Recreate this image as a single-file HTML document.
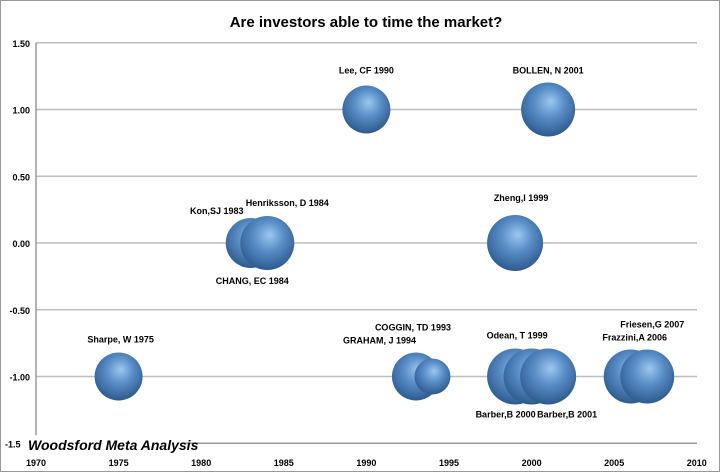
<!DOCTYPE html>
<html><head><meta charset="utf-8"><style>
body{margin:0;background:#fff;}
svg{display:block;font-family:"Liberation Sans",sans-serif;}
</style></head><body>
<svg id="chart" width="720" height="472" viewBox="0 0 720 472">
<defs>
<radialGradient id="bg" cx="0.5" cy="0.4" r="0.6" fx="0.55" fy="0.35">
<stop offset="0" stop-color="#9cc8f0"/>
<stop offset="0.45" stop-color="#5b8fc8"/>
<stop offset="1" stop-color="#2d5a8e"/>
</radialGradient>
</defs>
<rect x="0.5" y="0.5" width="719" height="471" fill="#fff" stroke="#999"/>
<text x="366" y="27" text-anchor="middle" font-size="15" font-weight="bold" fill="#000">Are investors able to time the market?</text>
<g id="grid"></g>
<g id="bubbles"></g>
<g id="labels"></g>
<text x="28" y="450" font-size="14" font-weight="bold" font-style="italic" fill="#000">Woodsford Meta Analysis</text>
</svg>
<script>
const years=[1975,1983,1984,1990,2001,1999,1993,1994,1999,2000,2001,2006,2007];
const values=[-1,0,0,1,1,0,-1,-1,-1,-1,-1,-1,-1];
const sizes=[24,25,27,24,27,28,24,18,28,28,28,27,27];
const names=["Sharpe, W 1975","Kon,SJ 1983","Henriksson, D 1984","Lee, CF 1990","BOLLEN, N 2001","Zheng,I 1999","COGGIN, TD 1993","GRAHAM, J 1994","Odean, T 1999","Barber,B 2000","Barber,B 2001","Frazzini,A 2006","Friesen,G 2007"];
const yTicks=[1.5,1,0.5,0,-0.5,-1,-1.5];
const yTickLabels=["1.50","1.00","0.50","0.00","-0.50","-1.00","-1.5"];
const xTicks=[1970,1975,1980,1985,1990,1995,2000,2005,2010];
const extraLabels=[{t:"CHANG, EC 1984",yr:1984,v:0,dy:41}];
// label offsets (pixels) relative to bubble center
const labelOff=[[2,-34],[-34,-29],[20,-37],[0,-36],[0,-36],[6,-42],[-3,-46],[-53,-33],[2,-38],[-26,41],[19,41],[4,-36],[5,-49]];
const NS="http://www.w3.org/2000/svg";
const X=y=>36+(y-1970)*16.52;
const Y=v=>243-v*133.5;
function mk(tag,attrs,parent){const e=document.createElementNS(NS,tag);for(const k in attrs)e.setAttribute(k,attrs[k]);parent.appendChild(e);return e;}
const g=document.getElementById('grid');
yTicks.forEach((v,i)=>{
 if(v>-1.5){const l=mk('line',{x1:36,x2:697,y1:Y(v),y2:Y(v),stroke:'#bdbdbd','stroke-width':1.5},g);
 
 }
 if(v!==-1.5){const t=mk('text',{x:30,y:Y(v)+4,'text-anchor':'end','font-size':9,'font-weight':'bold',fill:'#000'},g);t.textContent=yTickLabels[i];
 
 }
});
const t15=mk('text',{x:5,y:Y(-1.5)+4,'font-size':9,'font-weight':'bold',fill:'#000'},g);t15.textContent="-1.5";


const xa=mk('line',{x1:182,x2:697,y1:Y(-1.5),y2:Y(-1.5),stroke:'#999','stroke-width':1.5},g);


const ya=mk('line',{x1:36,x2:36,y1:Y(1.5),y2:Y(-1.5)-8,stroke:'#999','stroke-width':1.5},g);


xTicks.forEach(x=>{const t=mk('text',{x:X(x),y:466,'text-anchor':'middle','font-size':9,'font-weight':'bold',fill:'#000'},g);t.textContent=x;
 
 });
const b=document.getElementById('bubbles'),lb=document.getElementById('labels');
years.forEach((yr,i)=>{
 const c=mk('circle',{cx:X(yr),cy:Y(values[i]),r:sizes[i],fill:'url(#bg)'},b);
 
 
 const t=mk('text',{x:X(yr)+labelOff[i][0],y:Y(values[i])+labelOff[i][1],'text-anchor':'middle','font-size':9,'font-weight':'bold',fill:'#000'},lb);
 t.textContent=names[i];
 
 
});
extraLabels.forEach(e=>{const t=mk('text',{x:X(e.yr)-15,y:Y(e.v)+e.dy,'text-anchor':'middle','font-size':9,'font-weight':'bold',fill:'#000'},lb);t.textContent=e.t;
 
 });
</script>
</body></html>
